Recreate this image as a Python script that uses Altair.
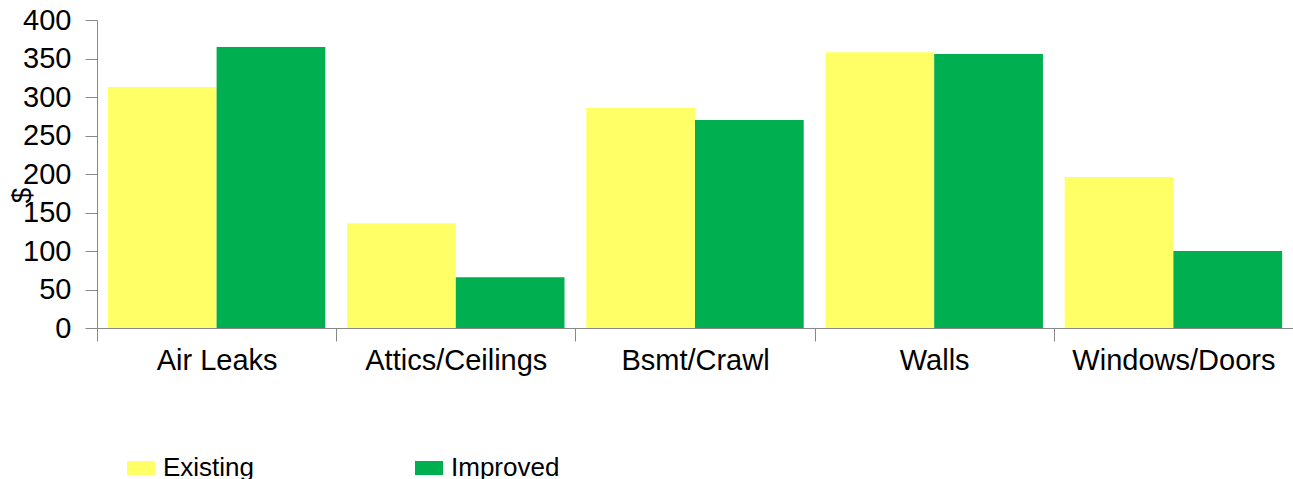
import altair as alt
import pandas as pd

categories = ["Air Leaks", "Attics/Ceilings", "Bsmt/Crawl", "Walls", "Windows/Doors"]
existing = [313, 136, 286, 358, 196]
improved = [365, 66, 270, 356, 100]
series = ["Existing", "Improved"]
colors = ["#FFFF66", "#00B050"]
y_ticks = [0, 50, 100, 150, 200, 250, 300, 350, 400]

rows = []
for c, e, i in zip(categories, existing, improved):
    rows.append({"category": c, "series": "Existing", "value": e})
    rows.append({"category": c, "series": "Improved", "value": i})
df = pd.DataFrame(rows)

FONT = "Liberation Sans"

chart = alt.Chart(df).mark_bar().encode(
    x=alt.X(
        "category:N", sort=categories, title=None,
        scale=alt.Scale(paddingInner=0, paddingOuter=0),
        axis=alt.Axis(labelAngle=0, tickBand="extent", tickSize=13, labelFontSize=29,
                      labelPadding=5, domainColor="#888888", tickColor="#888888",
                      labelColor="black", labelFont=FONT, labelLimit=400),
    ),
    xOffset=alt.XOffset("series:N", sort=series,
                        scale=alt.Scale(paddingOuter=0.1, paddingInner=0)),
    y=alt.Y(
        "value:Q", scale=alt.Scale(domain=[0, 400]),
        axis=alt.Axis(values=y_ticks, tickSize=12, labelPadding=14, grid=False,
                      labelFontSize=29, labelFont=FONT, labelColor="black",
                      domainColor="#888888", tickColor="#888888",
                      title="$", titleFont=FONT, titleFontSize=28, titleFontWeight="normal",
                      titleColor="black", titleAngle=270, titleX=-75, titleY=175,
                      titleAlign="center", titleBaseline="middle"),
    ),
    color=alt.Color(
        "series:N", scale=alt.Scale(domain=series, range=colors),
        legend=alt.Legend(title=None, orient="none", legendX=30, legendY=434,
                          direction="horizontal", columns=2, columnPadding=160,
                          symbolType="M-1,-0.5L1,-0.5L1,0.5L-1,0.5Z", symbolSize=784,
                          symbolStrokeWidth=0, labelFontSize=26, labelFont=FONT,
                          labelColor="black", labelOffset=8),
    ),
).properties(
    width=1196, height=308,
    padding={"left": 97, "top": 20, "right": 0, "bottom": 151},
    autosize=alt.AutoSizeParams(type="none"),
).configure_view(stroke=None)

chart.save("out.html", embed_options={"renderer": "svg", "actions": False})
